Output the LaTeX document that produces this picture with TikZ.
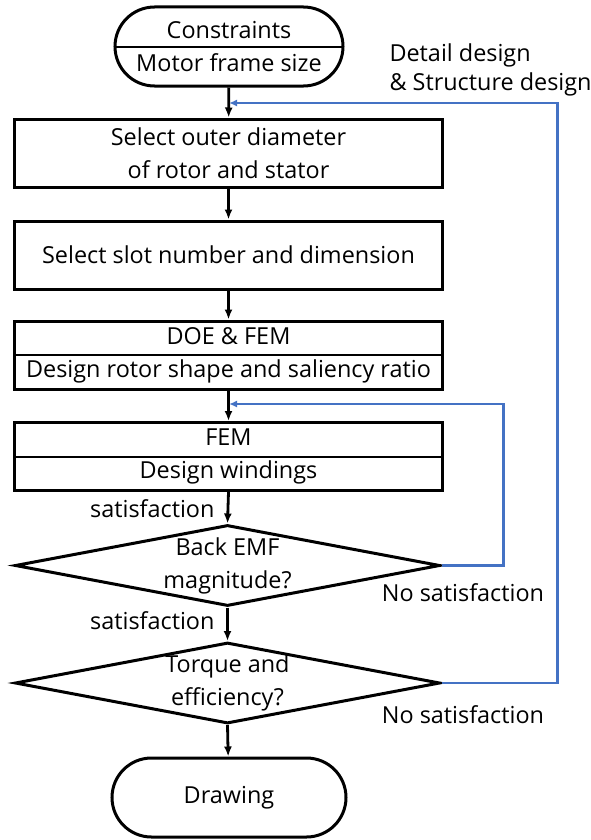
\documentclass[tikz,border=0pt]{standalone}
\usepackage{fontspec}
\setmainfont{Open Sans}
\usepackage{xcolor}
\usepackage{tikz}
\usetikzlibrary{shapes.geometric,shapes.misc}
\usetikzlibrary{arrows.meta}
\definecolor{fbblue}{RGB}{68,114,196}
\tikzset{
  flow/.style={-{Latex[length=10bp,width=8bp]},line width=2.8bp},
  fb/.style={-{Latex[length=8bp,width=7bp]},line width=2.5bp,draw=fbblue},
  procbox/.style={rectangle,draw,line width=3bp,minimum width=427bp,minimum height=68bp,align=center,inner sep=0pt},
  midline/.style={path picture={\draw[line width=2bp] (path picture bounding box.west) -- (path picture bounding box.east);}},
  termbox/.style={rounded rectangle,draw,line width=3bp,minimum height=79bp,align=center,inner sep=0pt},
  decbox/.style={diamond,draw,line width=3bp,minimum width=425bp,minimum height=81bp,inner sep=0pt},
}
\newcommand{\txtnode}{\node}
\newcommand{\boxnode}{\node[procbox]}
\newcommand{\termnode}{\node[termbox]}
\newcommand{\decnode}{\node[decbox]}

\begin{document}
\begin{tikzpicture}[x=1bp,y=-1bp,font=\fontsize{23.5}{33}\selectfont]
      \useasboundingbox (0,0) rectangle (591,840);
      \termnode (limits) [midline,minimum width=228bp] at (229,46.5) {Constraints\\Motor frame size};
      \boxnode (outer) at (228.5,153) {Select outer diameter\\of rotor and stator};
      \boxnode (slot) at (228.5,255) {Select slot number and dimension};
      \boxnode (rotor) [midline] at (228.5,355) {DOE \& FEM\\Design rotor shape and saliency ratio};
      \boxnode (wind) [midline] at (228.5,456.5) {FEM\\Design windings};
      \decnode (emf) [label={[align=center]center:Back EMF\\magnitude?}] at (227.5,565.5) {};
      \decnode (torque) [label={[align=center]center:Torque and\\efficiency?}] at (227.5,683) {};
      \termnode (drawing) [minimum width=234bp] at (229,797.5) {Drawing};
      \coordinate (loop1) at (229,404); % 
      \coordinate (loop2) at (229,103); % 
      \txtnode (ok1) [anchor=east] at (218,509) {satisfaction};
      \txtnode (ok2) [anchor=east] at (218,621) {satisfaction};
      \txtnode (no1) at (463,593) {No satisfaction};
      \txtnode (no2) at (463,715) {No satisfaction};
      \txtnode (detail) [anchor=west,align=left,font=\fontsize{23.5}{29}\selectfont] at (386,70) {Detail design\\\& Structure design};
      \draw[flow] (limits) -- (outer);
      \draw[flow] (outer) -- (slot);
      \draw[flow] (slot) -- (rotor);
      \draw[flow] (rotor) -- (wind);
      \draw[flow] (wind.south) -- (emf.north);
      \draw[flow] (emf.south) -- (torque.north);
      \draw[flow] (torque.south) -- (drawing);
      \draw[fb] (emf.east) -- ++(62,0) |- (loop1);
      \draw[fb] (torque.east) -- ++(116,0) |- (loop2);
    \end{tikzpicture}
\end{document}
